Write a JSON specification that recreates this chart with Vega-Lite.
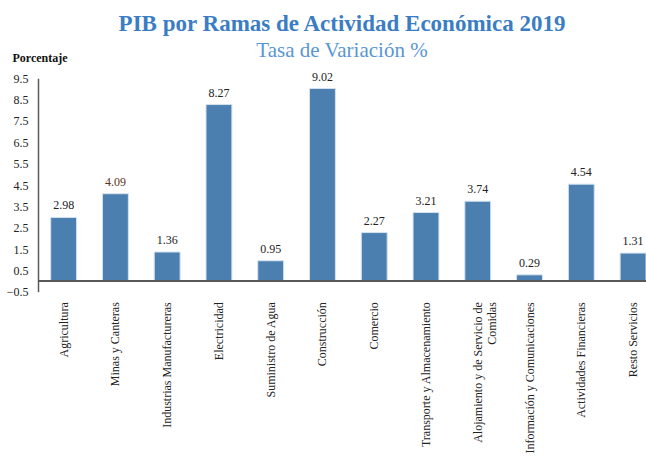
{
  "$schema": "https://vega.github.io/schema/vega-lite/v6.json",
  "width": 608,
  "height": 213.4,
  "autosize": {"type": "none"},
  "padding": {"left": 38, "top": 78.3, "right": 0, "bottom": 172.3},
  "background": "white",
  "title": {
    "text": "PIB por Ramas de Actividad Económica 2019",
    "subtitle": "Tasa de Variación %",
    "anchor": "middle",
    "font": "Liberation Serif, Times New Roman, serif",
    "fontSize": 23,
    "fontWeight": "bold",
    "color": "#3b7dc4",
    "subtitleFont": "Liberation Serif, Times New Roman, serif",
    "subtitleFontSize": 21,
    "subtitleColor": "#5a96d2",
    "subtitlePadding": 4,
    "offset": -10
  },
  "config": {
    "view": {"stroke": null},
    "font": "Liberation Serif, Times New Roman, serif",
    "axis": {"labelOverlap": false},
    "axisY": {"labelOverlap": false}
  },
  "data": {
    "values": [
      {"rama": "Agricultura", "valor": 2.98},
      {"rama": "Minas y Canteras", "valor": 4.09},
      {"rama": "Industrias Manufactureras", "valor": 1.36},
      {"rama": "Electricidad", "valor": 8.27},
      {"rama": "Suministro de Agua", "valor": 0.95},
      {"rama": "Construcción", "valor": 9.02},
      {"rama": "Comercio", "valor": 2.27},
      {"rama": "Transporte y Almacenamiento", "valor": 3.21},
      {"rama": "Alojamiento y de Servicio de Comidas", "valor": 3.74},
      {"rama": "Información y Comunicaciones", "valor": 0.29},
      {"rama": "Actividades Financieras", "valor": 4.54},
      {"rama": "Resto Servicios", "valor": 1.31}
    ]
  },
  "encoding": {
    "x": {
      "field": "rama",
      "type": "nominal",
      "sort": null,
      "scale": {"paddingInner": 0.5, "paddingOuter": 0.1227, "align": 1},
      "axis": {
        "title": null,
        "domain": false,
        "ticks": false,
        "labelAngle": -90,
        "labelAlign": "right",
        "labelBaseline": "middle",
        "labelPadding": 10,
        "labelFont": "Liberation Serif, Times New Roman, serif",
        "labelFontSize": 12,
        "labelColor": "#222222",
        "labelLimit": 300,
        "labelLineHeight": 14,
        "labelOverlap": false,
        "labelExpr": "datum.label == 'Alojamiento y de Servicio de Comidas' ? ['Alojamiento y de Servicio de', 'Comidas'] : datum.label"
      }
    },
    "y": {
      "field": "valor",
      "type": "quantitative",
      "scale": {"domain": [-0.5, 9.5], "nice": false, "zero": false},
      "axis": {
        "title": "Porcentaje",
        "titleAngle": 0,
        "titleAlign": "left",
        "titleBaseline": "alphabetic",
        "titleX": -26,
        "titleY": -17,
        "titleFont": "Liberation Serif, Times New Roman, serif",
        "titleFontSize": 12,
        "titleFontWeight": "bold",
        "titleColor": "#111111",
        "values": [-0.5, 0.5, 1.5, 2.5, 3.5, 4.5, 5.5, 6.5, 7.5, 8.5, 9.5],
        "format": ".1f",
        "grid": false,
        "ticks": false,
        "labelOverlap": false,
        "labelPadding": 10,
        "labelFont": "Liberation Serif, Times New Roman, serif",
        "labelFontSize": 12,
        "labelColor": "#222222",
        "domainColor": "#595959",
        "domainWidth": 1.5
      }
    }
  },
  "layer": [
    {
      "mark": {"type": "bar", "color": "#4a7fb0", "stroke": "#d6e2ee", "strokeWidth": 1},
      "encoding": {
        "y2": {"datum": 0}
      }
    },
    {
      "mark": {"type": "text", "baseline": "alphabetic", "dy": -8, "font": "Liberation Serif, Times New Roman, serif", "fontSize": 12},
      "encoding": {
        "text": {"field": "valor", "type": "quantitative", "format": ".2f"},
        "color": {"condition": {"test": "datum.valor == 4.09", "value": "#5c3317"}, "value": "#222222"}
      }
    },
    {
      "mark": {"type": "rule", "color": "#595959", "strokeWidth": 1.5},
      "encoding": {"x": {"value": 0}, "x2": {"value": 608}, "y": {"datum": 0}}
    }
  ]
}
